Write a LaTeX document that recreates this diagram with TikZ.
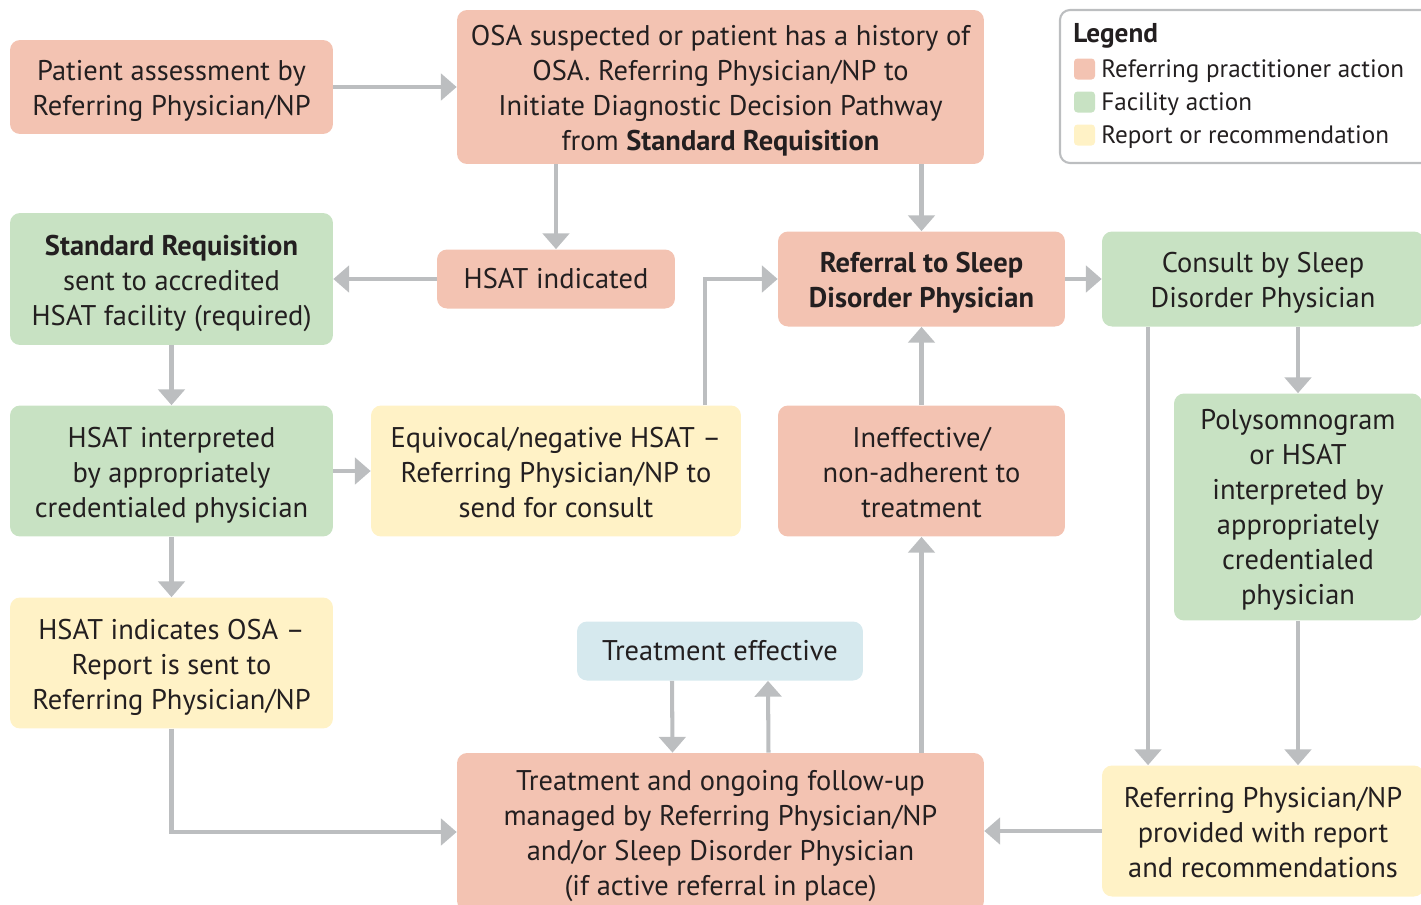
\documentclass[tikz,border=0pt]{standalone}
\usepackage{fontspec}
\setmainfont{PT Sans}
\usetikzlibrary{arrows.meta,positioning}

\definecolor{ink}{HTML}{231F20}
\definecolor{refcol}{HTML}{F3C3B2}
\definecolor{faccol}{HTML}{C8E2C3}
\definecolor{repcol}{HTML}{FFF2C6}
\definecolor{effcol}{HTML}{D6E9EE}
\definecolor{flowgray}{HTML}{BCBEC0}

\tikzset{
  box/.style={rounded corners=0.2cm, align=center, text=ink, inner sep=0pt,
    font=\fontsize{16.2}{19.9}\selectfont},
  twoline/.style={text depth=0pt, text height=32.6pt},
  threeline/.style={text depth=0pt, text height=53.4pt},
  fourline/.style={text depth=0pt, text height=72.4pt},
  sixline/.style={text depth=0pt, text height=110.8pt},
  refbox/.style={box, fill=refcol},
  facbox/.style={box, fill=faccol},
  repbox/.style={box, fill=repcol},
  effbox/.style={box, fill=effcol},
  flow/.style={draw=flowgray, line width=2.3pt,
    -{Triangle[length=9pt,width=15pt]}},
  legtext/.style={anchor=west, text=ink, inner sep=0pt,
    font=\fontsize{14.3}{17}\selectfont}
}

\begin{document}
\begin{tikzpicture}[x=0.02cm, y=-0.02cm]
    \useasboundingbox (0,0) rectangle (1421,904);
    \clip (0,0) rectangle (1421,904);
    % boxes, row by row
    \node [refbox, twoline, minimum width=6.46cm, minimum height=1.88cm]
    (patient) at (171.5,87) {Patient assessment by\\Referring Physician/NP};
    \node [refbox, fourline, minimum width=10.54cm, minimum height=3.08cm]
    (osa) at (720.5,87) {OSA suspected or patient has a history of\\
      OSA. Referring Physician/NP to\\
      Initiate Diagnostic Decision Pathway\\
      from \textbf{Standard Requisition}};
    \node [facbox, threeline, minimum width=6.46cm, minimum height=2.64cm]
    (stdreq) at (171.5,279) {\textbf{Standard Requisition}\\
      sent to accredited\\HSAT facility (required)};
    \node [refbox, minimum width=4.76cm, minimum height=1.18cm]
    (hsatind) at (556,279) {HSAT indicated};
    \node [refbox, twoline, minimum width=5.74cm, minimum height=1.90cm]
    (referral) at (921.5,279) {\textbf{Referral to Sleep}\\
      \textbf{Disorder Physician}};
    \node [facbox, twoline, minimum width=6.44cm, minimum height=1.90cm]
    (consult) at (1263,279) {Consult by Sleep\\Disorder Physician};
    \node [facbox, threeline, minimum width=6.46cm, minimum height=2.62cm]
    (hsatint) at (171.5,471) {HSAT interpreted\\by appropriately\\
      credentialed physician};
    \node [repbox, threeline, minimum width=7.40cm, minimum height=2.62cm]
    (equiv) at (556,471) {Equivocal/negative HSAT --\\
      Referring Physician/NP to\\send for consult};
    \node [refbox, threeline, minimum width=5.74cm, minimum height=2.62cm]
    (ineff) at (921.5,471) {Ineffective/\\non-adherent to\\treatment};
    \node [facbox, sixline, minimum width=4.96cm, minimum height=4.54cm]
    (poly) at (1298,507) {Polysomnogram\\or HSAT\\interpreted by\\
      appropriately\\credentialed\\physician};
    \node [repbox, threeline, minimum width=6.46cm, minimum height=2.62cm]
    (hsatosa) at (171.5,663) {HSAT indicates OSA --\\Report is sent to\\
      Referring Physician/NP};
    \node [effbox, minimum width=5.72cm, minimum height=1.18cm]
    (effective) at (720,651) {Treatment effective};
    \node [refbox, fourline, minimum width=10.54cm, minimum height=3.16cm]
    (treat) at (720.5,832) {Treatment and ongoing follow-up\\
      managed by Referring Physician/NP\\
      and/or Sleep Disorder Physician\\(if active referral in place)};
    \node [repbox, threeline, minimum width=6.44cm, minimum height=2.62cm]
    (provided) at (1263,831) {Referring Physician/NP\\
      provided with report\\and recommendations};
    % connectors
    \draw [flow] (patient) -- (osa);
    \draw [flow] (osa.south -| hsatind) -- (hsatind);
    \draw [flow] (osa.south -| referral) -- (referral);
    \draw [flow] (hsatind) -- (stdreq);
    \draw [flow] (referral) -- (consult);
    \draw [flow] (stdreq) -- (hsatint);
    \draw [flow] (hsatint) -- (equiv);
    \draw [flow] ([xshift=2.98cm]equiv.north) |- (referral.west);
    \draw [flow] (ineff) -- (referral);
    \draw [flow] (consult.south -| poly) -- (poly);
    \draw [flow] ([xshift=-2.30cm]consult.south)
    -- ([xshift=-2.30cm]provided.north);
    \draw [flow] (poly) -- (poly |- provided.north);
    \draw [flow] (hsatint) -- (hsatosa);
    \draw [flow] (hsatosa.south) |- (treat.west);
    \draw [flow] ([xshift=-0.96cm]effective.south)
    -- ([xshift=-0.96cm]treat.north);
    \draw [flow] ([xshift=0.96cm]treat.north)
    -- ([xshift=0.96cm]effective.south);
    \draw [flow] (treat.north -| ineff) -- (ineff);
    \draw [flow] (provided.west) -- (provided.west -| treat.east);
    % legend
    \draw [flowgray, line width=1.2pt, rounded corners=0.2cm]
    (1060,10) rectangle (1445,163);
    \node [legtext, font=\fontsize{15.5}{18}\selectfont\bfseries]
    (legtitle) at (1073,36) {Legend};
    \foreach \col/\txt [count=\i] in {refcol/Referring practitioner action,
      faccol/Facility action, repcol/Report or recommendation} {
      \node [fill=\col, rounded corners=2pt, minimum size=0.42cm,
      inner sep=0pt] (swatch\i) at (1084.5,{36+33*\i}) {};
      \node [legtext] (legitem\i) at (1101,{38+33*\i}) {\txt};
    }
\end{tikzpicture}
\end{document}
